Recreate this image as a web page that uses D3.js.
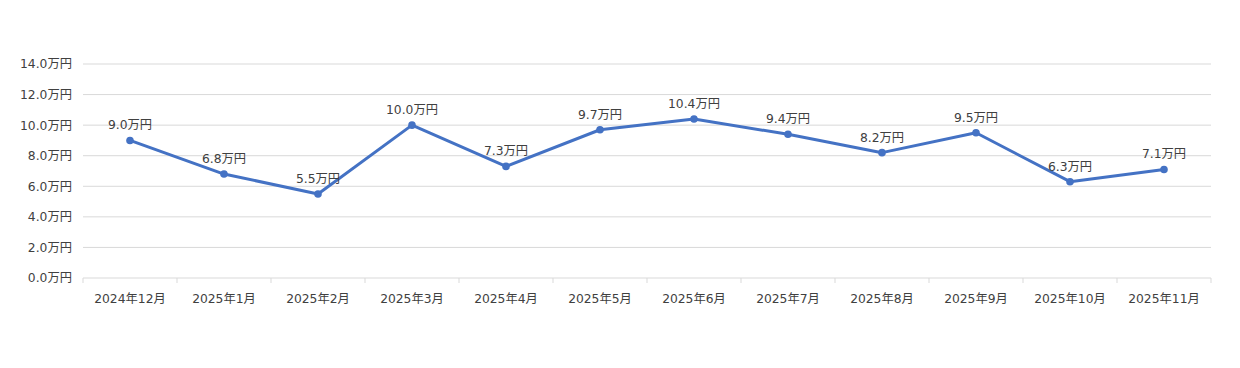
<!DOCTYPE html>
<html><head><meta charset="utf-8">
<script src="https://cdn.jsdelivr.net/npm/d3@7"></script>
<style>body{margin:0;background:#fff}svg{display:block}</style>
</head><body><svg id="c" width="1240" height="368"></svg>
<script>
const categories = ["2024年12月","2025年1月","2025年2月","2025年3月","2025年4月","2025年5月","2025年6月","2025年7月","2025年8月","2025年9月","2025年10月","2025年11月"];
const values = [9.0,6.8,5.5,10.0,7.3,9.7,10.4,9.4,8.2,9.5,6.3,7.1];
const yTicks = [0,2,4,6,8,10,12,14];

(function(){
const svg = d3.select("#c");
const font = "'DejaVu Sans','Noto Sans CJK JP',sans-serif";
const fs = 12.3;
const pL = 83, pR = 1211, pT = 64, pB = 278;
const x = d3.scaleBand().domain(categories).range([pL, pR]);
const y = d3.scaleLinear().domain([0,14]).range([pB, pT]);

const grid = svg.append("g");
grid.selectAll("line").data(yTicks.filter(d=>d>0)).join("line")
  .attr("x1", pL).attr("x2", pR)
  .attr("y1", d=>y(d)).attr("y2", d=>y(d))
  .attr("stroke", "#d9d9d9").attr("stroke-width", 1);

const yAxis = svg.append("g").attr("transform", `translate(${pL},0)`)
  .call(d3.axisLeft(y).tickValues(yTicks).tickSize(0).tickPadding(11).tickFormat(d=>d.toFixed(1)+"万円"));
yAxis.select(".domain").remove();
yAxis.selectAll("text").attr("font-family", font).attr("font-size", fs).attr("fill", "#404040");

const xAxis = svg.append("g").attr("transform", `translate(0,${pB})`);
xAxis.append("line").attr("x1", pL).attr("x2", pR).attr("stroke", "#d9d9d9");
const bounds = categories.map(c=>x(c)).concat([pR]);
xAxis.selectAll("line.t").data(bounds).join("line").attr("class","t")
  .attr("x1", d=>d).attr("x2", d=>d).attr("y1", 0).attr("y2", 5).attr("stroke", "#d9d9d9");
xAxis.selectAll("text").data(categories).join("text")
  .attr("x", d=>x(d)+x.bandwidth()/2).attr("y", 25).attr("text-anchor","middle")
  .attr("font-family", font).attr("font-size", fs).attr("fill", "#404040").text(d=>d);

const pts = categories.map((c,i)=>({c, v: values[i]}));
const line = d3.line().x(d=>x(d.c)+x.bandwidth()/2).y(d=>y(d.v));
svg.append("path").datum(pts).attr("d", line).attr("fill","none")
  .attr("stroke","#4472c4").attr("stroke-width",3).attr("stroke-linejoin","round");
svg.selectAll("circle.m").data(pts).join("circle").attr("class","m")
  .attr("cx", d=>x(d.c)+x.bandwidth()/2).attr("cy", d=>y(d.v)).attr("r", 3.8)
  .attr("fill","#4472c4");
svg.selectAll("text.l").data(pts).join("text").attr("class","l")
  .attr("x", d=>x(d.c)+x.bandwidth()/2).attr("y", d=>y(d.v)-11)
  .attr("text-anchor","middle").attr("font-family", font).attr("font-size", fs).attr("fill","#404040")
  .text(d=>d.v.toFixed(1)+"万円");
})();
</script></body></html>
